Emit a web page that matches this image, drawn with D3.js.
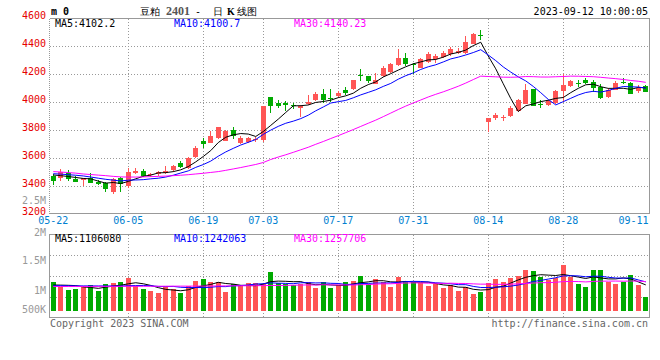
<!DOCTYPE html>
<html><head><meta charset="utf-8">
<script src="https://cdn.jsdelivr.net/npm/d3@7/dist/d3.min.js"></script>
<style>
html,body{margin:0;padding:0;background:#fff;}
svg{display:block;}
text{font-family:"DejaVu Sans Mono","Liberation Mono",monospace;font-size:10px;}
</style></head><body>
<svg id="c" width="660" height="360"></svg>
<script>
// ---- data ----
const dates = ["05-22","05-23","05-24","05-25","05-26","05-29","05-30","05-31","06-01","06-02",
"06-05","06-06","06-07","06-08","06-09","06-12","06-13","06-14","06-15","06-16",
"06-19","06-20","06-21","06-26","06-27","06-28","06-29","06-30","07-03","07-04",
"07-05","07-06","07-07","07-10","07-11","07-12","07-13","07-14","07-17","07-18",
"07-19","07-20","07-21","07-24","07-25","07-26","07-27","07-28","07-31","08-01",
"08-02","08-03","08-04","08-07","08-08","08-09","08-10","08-11","08-14","08-15",
"08-16","08-17","08-18","08-21","08-22","08-23","08-24","08-25","08-28","08-29",
"08-30","08-31","09-01","09-04","09-05","09-06","09-07","09-08","09-11","09-12"];
const openP = [3476,3457,3498,3450,3448,3462,3429,3421,3362,3462,
3405,3498,3507,3481,3488,3495,3519,3569,3533,3612,
3726,3712,3748,3726,3805,3712,3720,3728,3730,4036,
3995,3993,3983,3960,3990,4014,4062,4033,4043,4086,
4093,4198,4186,4133,4186,4217,4269,4314,4271,4248,
4290,4307,4324,4348,4355,4352,4419,4483,3860,3888,
3890,3900,3938,3988,4093,3990,3979,3995,4081,4114,
4140,4157,4143,4110,4038,4090,4148,4140,4079,4114];
const highP = [3486,3524,3514,3471,3462,3495,3443,3429,3462,3466,
3529,3531,3524,3498,3510,3548,3552,3579,3610,3690,
3743,3795,3826,3800,3824,3760,3755,3750,3971,4040,
4019,4010,3995,3978,4050,4074,4098,4098,4079,4110,
4162,4238,4190,4212,4257,4281,4379,4352,4281,4319,
4357,4343,4369,4395,4390,4474,4495,4514,3890,3924,
3912,3971,4026,4129,4098,4014,4019,4090,4200,4162,
4162,4176,4157,4129,4102,4150,4176,4145,4121,4121];
const lowP = [3410,3438,3438,3429,3402,3421,3410,3360,3343,3362,
3386,3490,3469,3469,3474,3486,3505,3529,3524,3605,
3674,3707,3736,3726,3740,3700,3712,3718,3720,3924,
3962,3938,3955,3895,3979,4007,3995,4002,4031,4050,
4086,4152,4138,4129,4181,4212,4262,4260,4205,4243,
4283,4283,4317,4329,4348,4348,4414,4443,3785,3876,
3867,3895,3933,3986,3971,3962,3974,3990,4002,4110,
4110,4129,4074,4024,4033,4086,4129,4057,4067,4071];
const closeP = [3440,3500,3452,3431,3457,3426,3419,3381,3452,3420,
3502,3512,3474,3490,3502,3510,3548,3538,3605,3671,
3702,3760,3824,3795,3757,3748,3742,3738,3971,3976,
3971,3981,3974,3976,4002,4062,4014,4021,4067,4067,
4157,4190,4152,4162,4243,4276,4317,4271,4267,4312,
4348,4331,4355,4379,4369,4431,4490,4476,3886,3912,
3898,3962,4014,4090,3976,3983,4010,4081,4121,4150,
4136,4138,4102,4031,4090,4138,4140,4062,4102,4074];
const volume = [1145000,1067000,1012000,1039000,1078000,1095000,995000,1112000,1134000,1145000,
1212000,1084000,1028000,995000,962000,1067000,1028000,967000,1078000,1162000,
1195000,1145000,1145000,978000,1112000,1095000,1128000,1128000,1117000,1312000,
1140000,1112000,1095000,1123000,1145000,1045000,1145000,1045000,1095000,1145000,
1162000,1245000,1112000,1195000,1145000,1067000,1228000,1162000,1145000,1128000,
1078000,1112000,1045000,1095000,995000,1062000,945000,983000,1128000,1195000,
1145000,1212000,1245000,1345000,1328000,1228000,1178000,1212000,1428000,1228000,
1112000,1062000,1345000,1345000,1145000,1112000,1145000,1262000,1095000,895000];
// MA values for the first bars (window reaches before 05-22)
const priceMaLead5 = [3481,3476,3470,3463];
const priceMaLead10 = [3490,3487,3483,3479,3474,3466,3458,3450,3444];
const priceMaLead30 = [3505,3502,3498,3494,3488,3484,3480,3476,3471,3467,
3466,3466,3467,3469,3471,3473,3476,3479,3483,3488,
3493,3499,3505,3514,3524,3534,3545,3556,3570];
const volMaLead5 = [1100000,1098000,1095000,1090000];
const volMaLead10 = [1088000,1088000,1087000,1086000,1085000,1085000,1084000,1084000,1083000];
const volMaLead30 = [1075000,1075000,1075000,1076000,1076000,1076000,1077000,1077000,1077000,1078000,
1078000,1078000,1079000,1079000,1079000,1080000,1080000,1081000,1081000,1082000,
1082000,1083000,1084000,1085000,1086000,1087000,1088000,1089000,1090000];
const priceTicks = [3200,3400,3600,3800,4000,4200,4400,4600];
const volTicks = [500000,1000000,1500000,2000000,2500000];
const volTickLabels = ["500K","1M","1.5M","2M","2.5M"];
const dateTicks = ["05-22","06-05","06-19","07-03","07-17","07-31","08-14","08-28","09-11"];
const maPeriods = [5,10,30];
const maColors = ["#000000","#0000ff","#ff00ff"];
const priceMaText = ["MA5:4102.2","MA10:4100.7","MA30:4140.23"];
const volMaText = ["MA5:1106080","MA10:1242063","MA30:1257706"];

// ---- layout ----
const L=49.5, R=649.5, MT=18.5, MB=213.5, VT=234.5, VB=317.5, VBASE=311;
const UP="#ff5555", DN="#00aa00", GRID="#999";
const svg=d3.select("#c");
const x=d3.scaleBand().domain(dates).range([L,R]);
const cx=d=>x(d)+x.bandwidth()/2;
const yP=d3.scaleLinear().domain([3200,4600]).range([214.3,18.3]);
const yV=d3.scaleLinear().domain([1000000,1500000]).range([291,261]);
const data=dates.map((d,i)=>({d,o:openP[i],h:highP[i],l:lowP[i],c:closeP[i],v:volume[i]}));
const ma=(arr,n,lead)=>arr.map((_,i)=>i<n-1?lead[i]:d3.mean(arr.slice(i-n+1,i+1)));
const priceLeads=[priceMaLead5,priceMaLead10,priceMaLead30];
const volLeads=[volMaLead5,volMaLead10,volMaLead30];

const defs=svg.append("defs");
defs.append("clipPath").attr("id","cm").append("rect").attr("x",L).attr("y",MT).attr("width",R-L).attr("height",MB-MT);
defs.append("clipPath").attr("id","cv").append("rect").attr("x",L).attr("y",VT).attr("width",R-L).attr("height",VB-VT);

// grid main
const gm=svg.append("g").attr("shape-rendering","crispEdges");
gm.selectAll(".hg").data(priceTicks.slice(1,-1)).join("line")
 .attr("x1",L).attr("x2",R).attr("y1",d=>Math.round(yP(d))+0.5).attr("y2",d=>Math.round(yP(d))+0.5)
 .attr("stroke",GRID).attr("stroke-dasharray","1,2");
const vTicks=dateTicks.slice(1,-1);
gm.selectAll(".vg").data(vTicks).join("line")
 .attr("x1",d=>Math.round(cx(d))+0.5).attr("x2",d=>Math.round(cx(d))+0.5).attr("y1",MT).attr("y2",MB)
 .attr("stroke",GRID).attr("stroke-dasharray","1,2");
gm.append("line").attr("x1",L).attr("x2",R).attr("y1",MT).attr("y2",MT).attr("stroke",GRID);
gm.append("line").attr("x1",L).attr("x2",R).attr("y1",MB).attr("y2",MB).attr("stroke",GRID);
gm.append("line").attr("x1",R).attr("x2",R).attr("y1",MT).attr("y2",MB).attr("stroke",GRID);
gm.append("line").attr("x1",L).attr("x2",L).attr("y1",MT).attr("y2",MB).attr("stroke",GRID).attr("stroke-dasharray","1,1");

// grid volume
const gv=svg.append("g").attr("shape-rendering","crispEdges");
gv.selectAll(".hv").data([1,2,3]).join("line")
 .attr("x1",L).attr("x2",R).attr("y1",d=>Math.round(VT+(VB-VT)*d/4)+0.5).attr("y2",d=>Math.round(VT+(VB-VT)*d/4)+0.5)
 .attr("stroke",GRID).attr("stroke-dasharray","1,2");
gv.selectAll(".vv").data(vTicks).join("line")
 .attr("x1",d=>Math.round(cx(d))+0.5).attr("x2",d=>Math.round(cx(d))+0.5).attr("y1",VT).attr("y2",VB)
 .attr("stroke",GRID).attr("stroke-dasharray","1,2");
gv.append("rect").attr("x",L).attr("y",VT).attr("width",R-L).attr("height",VB-VT).attr("fill","none").attr("stroke",GRID);

// candles
const gc=svg.append("g").attr("clip-path","url(#cm)").attr("shape-rendering","crispEdges");
gc.selectAll(".wick").data(data).join("line")
 .attr("x1",d=>Math.floor(cx(d.d))+0.5).attr("x2",d=>Math.floor(cx(d.d))+0.5)
 .attr("y1",d=>yP(d.h)).attr("y2",d=>yP(d.l))
 .attr("stroke",d=>d.c>=d.o?UP:DN);
gc.selectAll(".body").data(data).join("rect")
 .attr("x",d=>cx(d.d)-2.7).attr("width",5.4)
 .attr("y",d=>yP(Math.max(d.o,d.c))).attr("height",d=>Math.max(1,Math.abs(yP(d.o)-yP(d.c))))
 .attr("fill",d=>d.c>=d.o?UP:DN);

// price MAs
const lineP=d3.line().x((v,i)=>cx(dates[i])).y(v=>yP(v));
const gma=svg.append("g").attr("clip-path","url(#cm)");
maPeriods.forEach((n,k)=>{
  gma.append("path").attr("d",lineP(ma(closeP,n,priceLeads[k]))).attr("fill","none").attr("stroke",maColors[k]).attr("stroke-width",1);
});

// volume bars
const gvb=svg.append("g").attr("clip-path","url(#cv)").attr("shape-rendering","crispEdges");
gvb.selectAll("rect").data(data).join("rect")
 .attr("x",d=>cx(d.d)-2.7).attr("width",5.4)
 .attr("y",d=>yV(d.v)).attr("height",d=>VBASE-yV(d.v))
 .attr("fill",d=>d.c>=d.o?UP:DN);
const lineV=d3.line().x((v,i)=>cx(dates[i])).y(v=>yV(v));
const gvm=svg.append("g").attr("clip-path","url(#cv)");
maPeriods.forEach((n,k)=>{
  gvm.append("path").attr("d",lineV(ma(volume,n,volLeads[k]))).attr("fill","none").attr("stroke",maColors[k]).attr("stroke-width",1);
});

// MA labels
const maX=[55,174,294];
priceMaText.forEach((t,k)=>svg.append("text").attr("x",maX[k]).attr("y",27.3).attr("fill",maColors[k]).text(t));
volMaText.forEach((t,k)=>svg.append("text").attr("x",maX[k]).attr("y",242).attr("fill",maColors[k]).text(t));

// axis labels
svg.selectAll(".pl").data(priceTicks).join("text")
 .attr("x",46).attr("y",d=>yP(d)+0.7).attr("text-anchor","end").attr("fill","#e60000").text(d=>d);
svg.selectAll(".vl").data(volTicks).join("text")
 .attr("x",46).attr("y",d=>d===2000000?236:Math.min(313,yV(d)+3)).attr("text-anchor","end").attr("fill","#999").text((d,i)=>volTickLabels[i]);
svg.selectAll(".dl").data(dateTicks).join("text")
 .attr("x",d=>Math.min(cx(d),633.5)).attr("y",224).attr("text-anchor","middle").attr("fill","#0080d0").text(d=>d);

// header
svg.append("text").attr("x",51).attr("y",15).attr("font-weight","bold").attr("font-size","11px").text("m 0");
const tt=svg.append("text").attr("y",15).attr("font-family","'Noto Sans CJK SC',sans-serif").attr("font-size","12.5px").attr("fill","#000");
tt.append("tspan").attr("x",140).text("豆粕");
tt.append("tspan").attr("x",166).attr("fill","#555").attr("font-weight","bold").attr("font-family","'Liberation Serif',serif").attr("font-size","12px").text("2401");
tt.append("tspan").attr("x",195).text("-");
tt.append("tspan").attr("x",213).text("日");
tt.append("tspan").attr("x",227).attr("font-weight","bold").attr("font-family","'Liberation Serif',serif").text("K");
tt.append("tspan").attr("x",237).text("线图");
svg.append("text").attr("x",648).attr("y",15).attr("text-anchor","end").attr("fill","#000").text("2023-09-12 10:00:05");
// footer
svg.append("text").attr("x",50).attr("y",327).attr("fill","#666").text("Copyright 2023 SINA.COM");
svg.append("text").attr("x",648).attr("y",327).attr("text-anchor","end").attr("fill","#666").text("http://finance.sina.com.cn");
</script>
</body></html>
